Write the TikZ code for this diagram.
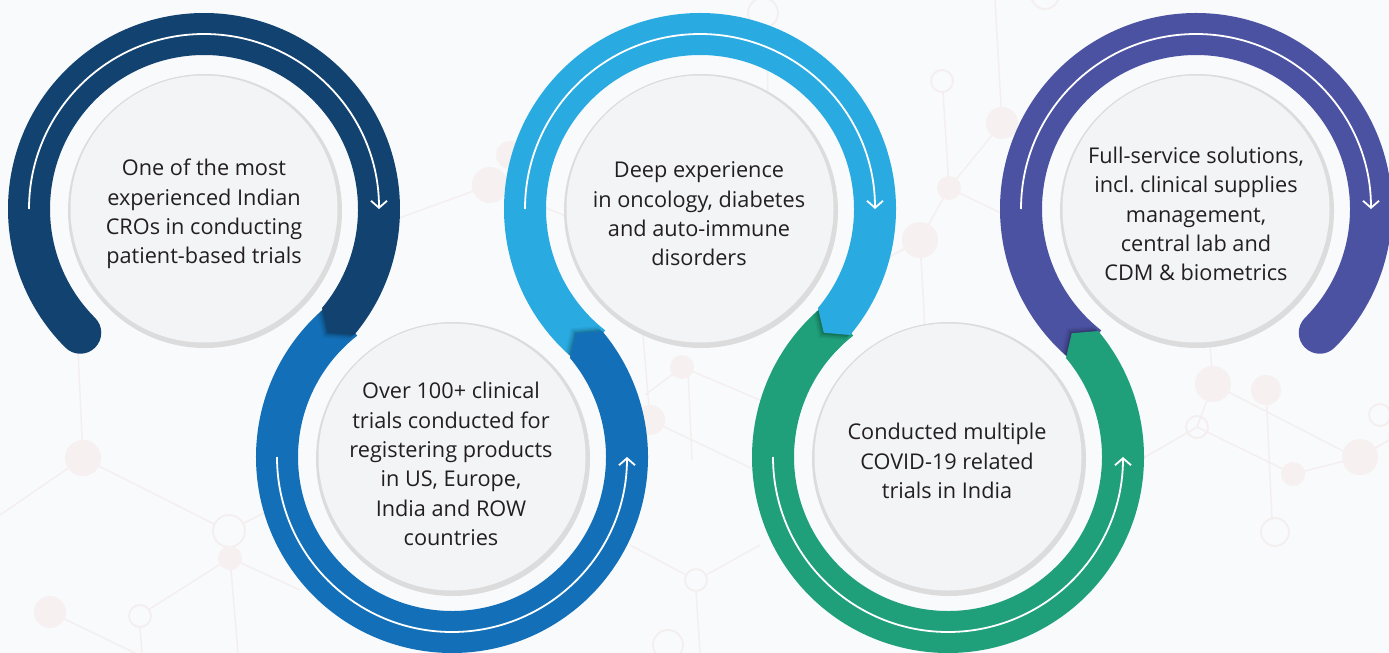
\documentclass[tikz,border=0pt]{standalone}
\usepackage{fontspec}
\setmainfont{Open Sans}
\frenchspacing
\usetikzlibrary{arrows.meta}
\definecolor{navy}{HTML}{12426F}
\definecolor{cblue}{HTML}{1370B8}
\definecolor{lblue}{HTML}{29ABE2}
\definecolor{cgreen}{HTML}{1FA07A}
\definecolor{cpurple}{HTML}{4C52A2}
\definecolor{bg}{HTML}{F8FAFC}
\definecolor{disk}{HTML}{F3F4F6}
\definecolor{diskedge}{HTML}{DCDCDC}
\definecolor{txt}{HTML}{231F20}
\definecolor{net}{HTML}{F5EEEE}
\definecolor{netfill}{HTML}{F6F0F0}
% clockwise ring ending in a pointed tip at -45 degrees
\newcommand{\CWpath}[2]{#1 (#2:196pt) arc[start angle=#2, end angle=-40, radius=196pt] -- (-45:175pt) -- (-40:154pt) arc[start angle=-40, end angle=#2, radius=154pt] -- cycle;}
% counter-clockwise ring ending in a pointed tip at 45 degrees
\newcommand{\CCWpath}[2]{#1 (#2:196pt) arc[start angle=#2, end angle=400, radius=196pt] -- (405:175pt) -- (400:154pt) arc[start angle=400, end angle=#2, radius=154pt] -- cycle;}
% shadows of the tips
\newcommand{\CWshadow}[1]{\foreach \d/\o in {7/0.05,5/0.07,3/0.09,1.5/0.1}{\fill[black,opacity=\o,shift={#1},shift={(225:\d pt)}] (-30:154pt) -- (-40:154pt) -- (-45:175pt) -- (-40:196pt) -- (-30:196pt) -- cycle;}}
\newcommand{\CCWshadow}[1]{\foreach \d/\o in {7/0.05,5/0.07,3/0.09,1.5/0.1}{\fill[black,opacity=\o,shift={#1},shift={(135:\d pt)}] (30:154pt) -- (40:154pt) -- (45:175pt) -- (40:196pt) -- (30:196pt) -- cycle;}}
\tikzset{
  ttext/.style={align=center, text=txt, font=\fontsize{21.7}{29.3}\selectfont, inner sep=0pt},
  warrow/.style={white, line width=1.8pt, -{Straight Barb[length=7pt,width=16pt]}},
  netline/.style={draw=net, line width=1.4pt},
  netdot/.style={fill=netfill},
  netring/.style={draw=net, line width=1.8pt},
}
\begin{document}
\begin{tikzpicture}[x=1pt,y=1pt]
\useasboundingbox (0,0) rectangle (1389,-653);
\fill[bg] (0,0) rectangle (1389,-653);

% faint molecular network in the background
\begin{scope}[yscale=-1]
  \draw[netline] (77,330) -- (83,458) -- (0,515);
  \draw[netline] (83,458) -- (214,524);
  \draw[netline] (244,523) -- (300,495);
  \draw[netline] (230,558) -- (238,653);
  \draw[netline] (230,558) -- (148,610);
  \draw[netline] (230,558) -- (300,590);
  \draw[netline] (50,612) -- (135,653);
  \draw[netline] (140,627) -- (142,653);
  \fill[netdot] (83,458) circle[radius=18];
  \draw[netring] (229,531) circle[radius=16];
  \fill[netdot] (230,558) circle[radius=12];
  \draw[netring] (140,616) circle[radius=11];
  \fill[netdot] (50,612) circle[radius=16];

  \draw[netline] (380,225) -- (490,185) -- (580,222);
  \fill[netdot] (510,155) circle[radius=14];
  \fill[netdot] (490,185) circle[radius=18];
  \draw[netline] (767,28) -- (768,110);
  \draw[netring] (763,13) circle[radius=15];

  \draw[netline] (943,92) -- (949,188) -- (920,240) -- (925,330);
  \draw[netline] (949,188) -- (1005,215);
  \draw[netline] (920,240) -- (870,268);
  \draw[netline] (1002,123) -- (995,0);
  \draw[netline] (1002,123) -- (949,188);
  \draw[netring] (942,81) circle[radius=11];
  \fill[netdot] (949,188) circle[radius=12];
  \fill[netdot] (1002,123) circle[radius=16];
  \fill[netdot] (920,240) circle[radius=18];
  \draw[netring] (1045,-5) circle[radius=14];

  \draw[netline] (643,335) -- (650,420) -- (755,470);
  \draw[netline] (682,367) -- (760,400);
  \draw[netline] (682,367) -- (645,395);
  \draw[netline] (688,370) -- (692,460);
  \draw[netline] (696,591) -- (700,653);
  \draw[netline] (686,575) -- (630,545);
  \draw[netline] (706,575) -- (760,545);
  \fill[netdot] (682,367) circle[radius=12];
  \fill[netdot] (650,420) circle[radius=15];
  \draw[netring] (696,580) circle[radius=11];
  \draw[netring] (668,645) circle[radius=15];

  \draw[netline] (1213,384) -- (1210,345);
  \draw[netline] (1213,384) -- (1197,427);
  \draw[netline] (1213,384) -- (1345,452);
  \draw[netline] (1197,427) -- (1293,474) -- (1360,457) -- (1389,440);
  \draw[netline] (1197,427) -- (1140,460);
  \draw[netline] (1266,390) -- (1272,520);
  \fill[netdot] (1213,384) circle[radius=18];
  \fill[netdot] (1266,390) circle[radius=15];
  \draw[netring] (1197,427) circle[radius=11];
  \fill[netdot] (1293,474) circle[radius=12];
  \fill[netdot] (1360,457) circle[radius=18];
  \draw[netring] (1380,415) circle[radius=11];
  \draw[netring] (1275,532) circle[radius=14];
\end{scope}

% inner grey discs
\foreach \cx/\cy in {204/209, 452/457, 700/209, 948/457, 1196/209}{
  \fill[diskedge] (\cx+1,-\cy-2) circle[radius=137pt];
  \fill[disk] (\cx,-\cy) circle[radius=133.5pt];
}

% ring 5 (purple) with round end cap
\fill[cpurple,shift={(1196,-209)}] (232:196pt) arc[start angle=232, end angle=-45, radius=196pt]
  arc[start angle=-45, end angle=-225, radius=21pt]
  arc[start angle=-45, end angle=232, radius=154pt] -- cycle;
% ring 4 (green)
\begin{scope}
  \CWpath{\clip[shift={(1196,-209)}]}{232}
  \CCWshadow{(948,-457)}
\end{scope}
\CCWpath{\fill[cgreen,shift={(948,-457)}]}{128}
% ring 3 (light blue)
\begin{scope}
  \CCWpath{\clip[shift={(948,-457)}]}{128}
  \CWshadow{(700,-209)}
\end{scope}
\CWpath{\fill[lblue,shift={(700,-209)}]}{232}
% ring 2 (blue)
\begin{scope}
  \CWpath{\clip[shift={(700,-209)}]}{232}
  \CCWshadow{(452,-457)}
\end{scope}
\CCWpath{\fill[cblue,shift={(452,-457)}]}{128}
% ring 1 (navy) with round start cap
\begin{scope}
  \CCWpath{\clip[shift={(452,-457)}]}{128}
  \CWshadow{(204,-209)}
\end{scope}
\fill[navy,shift={(204,-209)}] (225:196pt) arc[start angle=225, end angle=-40, radius=196pt]
  -- (-45:175pt) -- (-40:154pt) arc[start angle=-40, end angle=225, radius=154pt]
  arc[start angle=45, end angle=-135, radius=21pt] -- cycle;

% white direction arrows
\draw[warrow,shift={(204,-209)}] (180:175pt) arc[start angle=180, end angle=0, radius=175pt];
\draw[warrow,shift={(452,-457)}] (180:175pt) arc[start angle=180, end angle=360, radius=175pt];
\draw[warrow,shift={(700,-209)}] (180:175pt) arc[start angle=180, end angle=0, radius=175pt];
\draw[warrow,shift={(948,-457)}] (180:175pt) arc[start angle=180, end angle=360, radius=175pt];
\draw[warrow,shift={(1196,-209)}] (180:175pt) arc[start angle=180, end angle=0, radius=175pt];

% texts
\node[ttext] (t1) at (204,-214) {One of the most\\experienced Indian\\CROs in conducting\\patient-based trials};
\node[ttext] (t2) at (451,-464) {Over 100+ clinical\\trials conducted for\\registering products\\in US, Europe,\\India and ROW\\countries};
\node[ttext] (t3) at (699,-214) {Deep experience\\in oncology, diabetes\\and auto-immune\\disorders};
\node[ttext] (t4) at (947,-461) {Conducted multiple\\COVID-19 related\\trials in India};
\node[ttext] (t5) at (1196,-214) {Full-service solutions,\\incl. clinical supplies\\management,\\central lab and\\CDM \& biometrics};
\end{tikzpicture}
\end{document}
